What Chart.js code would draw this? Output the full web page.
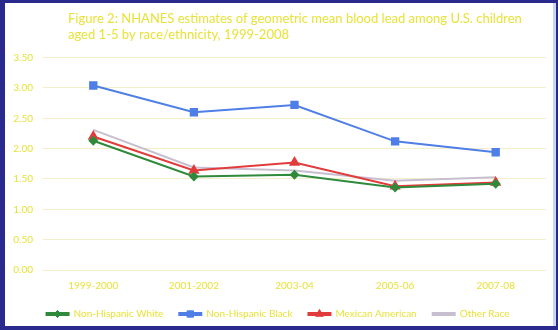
<!DOCTYPE html>
<html>
<head>
<meta charset="utf-8">
<script src="https://cdn.jsdelivr.net/npm/chart.js@4/dist/chart.umd.min.js"></script>
<style>
  html, body { margin: 0; padding: 0; background: #2a2a8e; }
  #wrap { width: 558px; height: 330px; position: relative; }
</style>
</head>
<body>
<div id="wrap"><canvas id="c" width="558" height="330"></canvas></div>
<script>
// Survey periods and geometric mean blood lead (µg/dL), children aged 1-5
const periods = ["1999-2000", "2001-2002", "2003-04", "2005-06", "2007-08"];
const whiteNH = [2.13, 1.54, 1.57, 1.36, 1.42];
const blackNH = [3.04, 2.60, 2.72, 2.12, 1.94];
const mexicanAm = [2.20, 1.64, 1.77, 1.38, 1.44];
const otherRace = [2.31, 1.69, 1.64, 1.47, 1.53];
const yTicks = [0, 0.5, 1, 1.5, 2, 2.5, 3, 3.5];
const titleLines = [
  "Figure 2: NHANES estimates of geometric mean blood lead among U.S. children",
  "aged 1-5 by race/ethnicity, 1999-2008"
];

const YELLOW = "#e9e23a";
const FONT = "Lato, 'Open Sans', sans-serif";

// Slide frame: navy border around a white panel
const framePlugin = {
  id: "frame",
  beforeDraw(chart) {
    const ctx = chart.ctx;
    ctx.save();
    ctx.fillStyle = "#2a2a8e";
    ctx.fillRect(0, 0, chart.width, chart.height);
    ctx.fillStyle = "#ffffff";
    ctx.fillRect(5, 3, 549, 323);
    ctx.fillStyle = "#c9d8f2";
    ctx.fillRect(553, 3, 3, 323);
    ctx.restore();
  }
};

// Two-line heading at the top left
const headingPlugin = {
  id: "heading",
  afterDraw(chart) {
    const ctx = chart.ctx;
    ctx.save();
    ctx.fillStyle = YELLOW;
    ctx.font = "13px " + FONT;
    ctx.textBaseline = "middle";
    ctx.textAlign = "left";
    titleLines.forEach((t, i) => ctx.fillText(t, 68, 19 + i * 16));
    ctx.restore();
  }
};

// Draw each dataset's marker on top of its legend line
const legendMarkerPlugin = {
  id: "legendMarkers",
  afterDraw(chart) {
    const lg = chart.legend;
    if (!lg || !lg.legendHitBoxes) return;
    const ctx = chart.ctx;
    lg.legendHitBoxes.forEach((box, i) => {
      const ds = chart.data.datasets[i];
      if (!ds.pointRadius) return;
      const bw = lg.options.labels.boxWidth;
      const cx = box.left + bw / 2;
      const cy = box.top + box.height / 2;
      ctx.save();
      ctx.fillStyle = ds.pointBackgroundColor;
      ctx.strokeStyle = ds.pointBackgroundColor;
      Chart.helpers.drawPoint(ctx, {
        pointStyle: ds.pointStyle, radius: ds.pointRadius, rotation: 0, borderWidth: 1
      }, cx, cy);
      ctx.restore();
    });
  }
};

function series(label, data, color, style, radius) {
  return {
    label, data,
    borderColor: color,
    backgroundColor: color,
    pointBackgroundColor: color,
    pointBorderColor: color,
    pointStyle: style,
    pointRadius: radius,
    borderWidth: 2,
    tension: 0
  };
}

new Chart(document.getElementById("c"), {
  type: "line",
  data: {
    labels: periods,
    datasets: [
      series("Non-Hispanic White", whiteNH, "#2f8a3c", "rectRot", 3.5),
      series("Non-Hispanic Black", blackNH, "#4f7fe6", "rect", 4.5),
      series("Mexican American", mexicanAm, "#e23b3b", "triangle", 4.5),
      series("Other Race", otherRace, "#c7bfcf", "circle", 0)
    ]
  },
  options: {
    responsive: false,
    animation: false,
    layout: { padding: { left: 10, right: 12, top: 57.6, bottom: 1 } },
    plugins: {
      title: { display: false },
      tooltip: { enabled: false },
      legend: {
        position: "bottom",
        labels: {
          color: YELLOW,
          font: { family: FONT, size: 10 },
          boxWidth: 22,
          boxHeight: 2,
          padding: 16
        }
      }
    },
    scales: {
      x: {
        offset: true,
        afterFit(scale) { scale.height = 23; },
        grid: { display: false, drawTicks: false },
        border: { display: false },
        ticks: { color: YELLOW, font: { family: FONT, size: 10 }, padding: 10, maxRotation: 0 }
      },
      y: {
        min: 0,
        max: 3.5,
        afterBuildTicks(scale) { scale.ticks = yTicks.map(v => ({ value: v })); },
        afterFit(scale) { scale.width = 33; },
        grid: { color: "#f3efcc", lineWidth: 1, drawTicks: false },
        border: { display: false },
        ticks: {
          color: YELLOW,
          font: { family: FONT, size: 10 },
          padding: 10,
          callback: v => Number(v).toFixed(2)
        }
      }
    }
  },
  plugins: [framePlugin, headingPlugin, legendMarkerPlugin]
});
</script>
</body>
</html>
